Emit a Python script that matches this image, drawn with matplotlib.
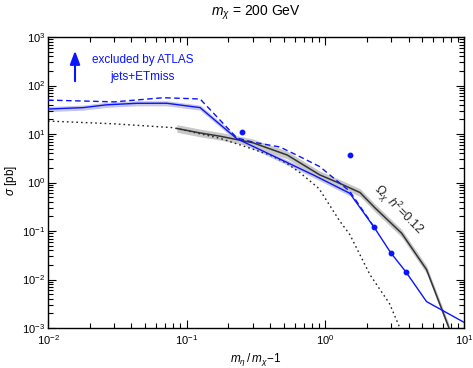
import matplotlib
matplotlib.use("Agg")
import matplotlib.pyplot as plt
import numpy as np

plt.rcParams['font.family'] = ['Liberation Sans', 'DejaVu Sans']
plt.rcParams['mathtext.fontset'] = 'custom'
plt.rcParams['mathtext.rm'] = 'Liberation Sans'
plt.rcParams['mathtext.it'] = 'Liberation Sans:italic'
plt.rcParams['mathtext.bf'] = 'Liberation Sans:bold'

# ATLAS jets+ETmiss limit (solid)
atlas_x = [0.01, 0.018, 0.0265, 0.044, 0.072, 0.125, 0.23, 0.82, 1.5, 2.25, 2.96, 3.8, 5.37, 10]
atlas_y = [32.7, 35, 40, 43, 43, 35, 8.0, 1.43, 0.6, 0.119, 0.0357, 0.0145, 0.0035, 0.00131]
# ATLAS limit (dashed)
atlas2_x = [0.01, 0.03, 0.068, 0.125, 0.23, 0.30, 0.47, 0.62, 0.91, 1.5, 2.03, 2.25]
atlas2_y = [50, 46, 56, 52.7, 8.3, 6.8, 5.4, 3.69, 2.13, 0.66, 0.185, 0.119]
# isolated points
pts_x = [0.249, 1.5, 2.25, 2.96, 3.8]
pts_y = [11.1, 3.69, 0.119, 0.0357, 0.0145]
# relic density line Omega h^2 = 0.12
relic_x = [0.085, 0.125, 0.174, 0.30, 0.53, 0.91, 1.27, 1.78, 2.28, 3.55, 5.37, 7.8]
relic_y = [13, 10.5, 9.0, 6.6, 3.7, 1.44, 0.96, 0.62, 0.3, 0.09, 0.016, 0.001]
# dotted theory cross section
theo_x = [0.01, 0.03, 0.08, 0.174, 0.302, 0.398, 0.526, 0.656, 0.9, 1.27, 1.5, 2.1, 2.9, 3.45]
theo_y = [18.5, 16.2, 13.5, 8.15, 4.84, 3.69, 2.49, 1.6, 0.75, 0.16, 0.085, 0.0125, 0.0032, 0.001]

fig = plt.figure(figsize=(4.73, 3.68), dpi=100)
ax = fig.add_axes([48/473, 40/368, 416/473, 291/368])

blue = '#0a14ff'
ax.fill_between(atlas_x[:9], np.array(atlas_y[:9]) / 1.13, np.array(atlas_y[:9]) * 1.13,
                color='#c8c8e6', lw=0, zorder=1)
ax.fill_between(relic_x, np.array(relic_y) / 1.2, np.array(relic_y) * 1.2,
                color='#c8c8c8', lw=0, zorder=1)
ax.plot(theo_x, theo_y, color='#222222', ls=(0, (1.2, 2.2)), lw=1.0, zorder=2)
ax.plot(relic_x, relic_y, color='#333333', lw=1.1, zorder=3)
ax.plot(atlas2_x, atlas2_y, color=blue, ls=(0, (4, 2.5)), lw=1.0, zorder=4)
ax.plot(atlas_x, atlas_y, color=blue, lw=1.0, zorder=4)
ax.plot(pts_x, pts_y, 'o', color=blue, ms=3.2, zorder=5)

ax.set_xscale('log')
ax.set_yscale('log')
ax.set_xlim(0.01, 10)
ax.set_ylim(1e-3, 1e3)
ax.tick_params(which='both', direction='in', top=True, right=True, labelsize=8, width=0.8)
ax.tick_params(which='major', length=6)
ax.tick_params(which='minor', length=3.5)
ax.tick_params(axis='x', pad=3.5)
ax.tick_params(axis='y', pad=2)
ax.yaxis.set_minor_locator(matplotlib.ticker.LogLocator(base=10, subs=np.arange(2, 10), numticks=20))
ax.yaxis.set_minor_formatter(matplotlib.ticker.NullFormatter())
ax.xaxis.set_major_locator(matplotlib.ticker.LogLocator(base=10, numticks=10))
ax.xaxis.set_minor_formatter(matplotlib.ticker.NullFormatter())
for s in ax.spines.values():
    s.set_linewidth(1.0)

fig.text(256/473, 1 - 360/368, r'$m_\eta\,/\,m_\chi\!-\!1$', ha='center', va='center', fontsize=8.5)
fig.text(11/473, 1 - 180/368, r'$\sigma$ [pb]', ha='center', va='center', fontsize=8.5, rotation=90)
fig.text(256/473, 1 - 13/368, r'$m_\chi$ = 200 GeV', ha='center', va='center', fontsize=10)

ax.annotate('', xy=(75, 368 - 48), xytext=(75, 368 - 84), xycoords='figure pixels',
            textcoords='figure pixels',
            arrowprops=dict(arrowstyle='-|>,head_length=0.8,head_width=0.3', color=blue, lw=1.5))
fig.text(143/473, 1 - 60/368, 'excluded by ATLAS', color=blue, ha='center', va='center', fontsize=8.5)
fig.text(143/473, 1 - 77/368, 'jets+ETmiss', color=blue, ha='center', va='center', fontsize=8.5)
fig.text(398/473, 1 - 210/368, r'$\Omega_\chi\ h^2$=0.12', color='#222222', ha='center', va='center',
         fontsize=9, rotation=-45)

fig.savefig('out.png', dpi=100)
